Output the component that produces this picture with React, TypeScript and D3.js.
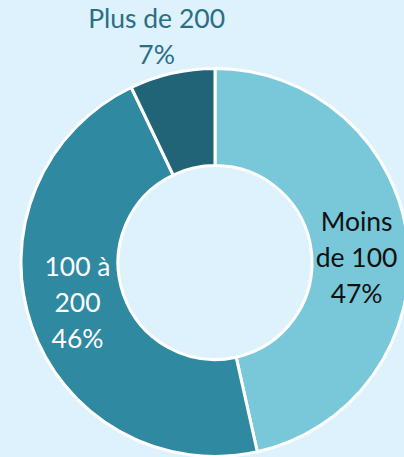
import React from "react";
import * as d3 from "d3";

const categories = ["Moins de 100", "100 à 200", "Plus de 200"];
const values = [46.5, 46.4, 7.1];
const labelLines = [["Moins", "de 100", "47%"], ["100 à", "200", "46%"], ["Plus de 200", "7%"]];
const colors = ["#78c8da", "#2e89a1", "#216477"];
const textColors = ["#111111", "#ffffff", "#2b6f83"];

const W = 404, H = 457;
const cx = 215, cy = 262.5;
const R = 194, r = 97;

export default function App() {
  const pie = d3.pie<number>().sort(null).value((d) => d)(values);
  const arc = d3.arc<d3.PieArcDatum<number>>().innerRadius(r).outerRadius(R);
  const outerLabel = d3.arc<d3.PieArcDatum<number>>().innerRadius(237).outerRadius(237);
  const lh = 36;
  return (
    <svg width={W} height={H} style={{ position: "absolute", left: 0, top: 0, display: "block" }}>
      <rect width={W} height={H} fill="#ddf2fd" />
      <g transform={`translate(${cx},${cy})`}>
        {pie.map((p, i) => (
          <path key={categories[i]} d={arc(p) || ""} fill={colors[i]} stroke="#ffffff" strokeWidth={3} strokeLinejoin="round" />
        ))}
        {pie.map((p, i) => {
          const outside = p.endAngle - p.startAngle < 0.5;
          const [x0, y0] = outside ? outerLabel.centroid(p) : arc.centroid(p);
          const left = x0 < 0;
          const x = outside ? x0 - 6 : x0 + (left ? 0 : -3);
          const y = y0 + (outside ? 6 : left ? -7 : 11);
          const lines = labelLines[i];
          return (
            <text key={"t" + i} x={x} textAnchor="middle" fontFamily="Lato, 'Noto Sans', sans-serif" fontSize={26.5} fill={textColors[i]}>
              {lines.map((l, k) => (
                <tspan key={k} x={x} y={y + (k - (lines.length - 1) / 2) * lh + 9}>{l}</tspan>
              ))}
            </text>
          );
        })}
      </g>
    </svg>
  );
}
